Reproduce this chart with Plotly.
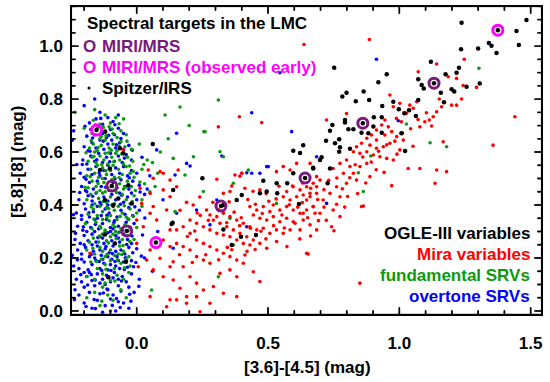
import plotly.graph_objects as go

# ---------------- data ----------------
miri_x = [-0.095, -0.038, 0.321, 0.641, 0.861, 1.132]
miri_y = [0.472, 0.302, 0.396, 0.502, 0.709, 0.860]
early_x = [-0.153, 0.073, 1.375]
early_y = [0.683, 0.258, 1.060]

irs_pts = [
    (1.237, 1.088), (1.446, 1.057), (1.484, 1.098), (1.341, 1.012), (1.351, 1.001), (1.455, 1.004),
    (1.370, 0.974), (1.300, 0.991), (1.235, 0.988), (1.227, 0.918), (1.218, 0.899), (1.306, 0.859),
    (1.256, 0.846), (1.176, 0.894), (1.120, 0.941), (1.072, 0.875), (1.085, 0.853), (1.093, 0.840),
    (1.158, 0.824), (1.199, 0.837), (1.209, 0.828), (1.170, 0.788), (1.072, 0.796), (0.952, 0.894),
    (0.920, 0.863), (0.864, 0.828), (0.799, 0.824), (0.783, 0.810), (0.834, 0.792), (0.885, 0.796),
    (0.935, 0.774), (0.977, 0.790), (0.998, 0.761), (1.019, 0.746), (1.037, 0.758), (1.063, 0.736),
    (1.008, 0.671), (0.903, 0.731), (0.933, 0.731), (0.901, 0.696), (0.933, 0.673), (0.882, 0.671),
    (0.856, 0.673), (0.825, 0.686), (0.806, 0.686), (0.793, 0.721), (0.793, 0.711), (0.745, 0.702),
    (0.736, 0.680), (0.721, 0.643), (0.755, 0.633), (0.771, 0.648), (0.774, 0.618), (0.812, 0.612),
    (0.771, 0.601), (0.634, 0.626), (0.704, 0.580), (0.698, 0.570), (0.736, 0.538), (0.672, 0.541),
    (0.727, 0.482), (1.022, 0.604), (0.752, 0.918), (0.622, 0.596), (0.596, 0.605), (0.672, 0.538),
    (0.596, 0.520), (0.482, 0.492), (0.533, 0.482), (0.573, 0.482), (0.495, 0.451), (0.469, 0.444),
    (0.535, 0.444), (0.618, 0.404), (0.400, 0.438), (0.381, 0.419), (0.330, 0.400), (0.250, 0.501),
    (0.330, 0.308), (0.397, 0.280), (0.454, 0.287), (0.362, 0.249), (0.137, 0.333), (0.139, 0.457),
    (-0.121, 0.289), (-0.083, 0.255), (-0.041, 0.186), (-0.108, 0.127), (-0.089, 0.400), (-0.019, 0.406),
    (0.133, 0.328), (-0.120, 0.677), (0.061, 0.630), (-0.064, 0.614), (-0.051, 0.595), (-0.102, 0.538),
    (-0.140, 0.532), (-0.032, 0.475), (-0.121, 0.419), (-0.070, 0.425),
    (-0.095, 0.472), (-0.038, 0.302), (0.321, 0.396), (0.641, 0.502), (0.861, 0.709), (1.132, 0.860),
    (-0.153, 0.683), (0.073, 0.258), (1.375, 1.060),
]

mira_pts = [
    (0.886, 1.025), (0.637, 1.006), (1.247, 0.950), (1.142, 0.932), (1.072, 0.903), (1.186, 0.884),
    (1.218, 0.878), (1.243, 0.851), (1.152, 0.800), (1.199, 0.777), (1.237, 0.800), (1.218, 0.777),
    (1.161, 0.771), (1.142, 0.752), (1.129, 0.733), (1.114, 0.721), (1.097, 0.714), (1.123, 0.698),
    (1.078, 0.695), (1.053, 0.765), (1.066, 0.790), (1.040, 0.777), (1.027, 0.746), (1.008, 0.714),
    (0.989, 0.727), (0.977, 0.771), (0.964, 0.815), (1.002, 0.784), (0.945, 0.721), (0.958, 0.695),
    (0.933, 0.702), (0.913, 0.683), (0.894, 0.664), (0.876, 0.652), (0.913, 0.645), (0.945, 0.664),
    (0.971, 0.677), (0.990, 0.658), (1.015, 0.645), (0.964, 0.633), (0.939, 0.620), (0.913, 0.614),
    (0.888, 0.626), (0.856, 0.633), (0.837, 0.620), (0.825, 0.601), (0.850, 0.595), (0.876, 0.601),
    (0.901, 0.589), (0.926, 0.582), (0.952, 0.576), (0.977, 0.570), (1.002, 0.608), (1.034, 0.538),
    (1.078, 0.538), (1.142, 0.532), (1.180, 0.526), (1.136, 0.482), (1.167, 0.639), (1.357, 0.626),
    (0.971, 0.473), (0.856, 0.394), (0.812, 0.545), (0.799, 0.570), (0.774, 0.557), (0.748, 0.538),
    (0.787, 0.520), (0.825, 0.520), (0.850, 0.545), (0.876, 0.557), (0.888, 0.507), (0.837, 0.494),
    (0.799, 0.482), (0.761, 0.469), (0.736, 0.444), (0.774, 0.431), (0.710, 0.419), (0.685, 0.469),
    (0.660, 0.444), (0.698, 0.494), (0.647, 0.419), (0.672, 0.394), (0.748, 0.381), (0.698, 0.369),
    (0.774, 0.356), (0.634, 0.369), (0.723, 0.721), (0.799, 0.745), (1.294, 0.844), (1.440, 0.733),
    (0.532, 0.526), (0.558, 0.545), (0.584, 0.532), (0.609, 0.557), (0.660, 0.557), (0.685, 0.507),
    (0.672, 0.482), (0.647, 0.469), (0.622, 0.457), (0.596, 0.469), (0.571, 0.451), (0.558, 0.431),
    (0.584, 0.419), (0.609, 0.431), (0.634, 0.438), (0.660, 0.431), (0.685, 0.444), (0.672, 0.394),
    (0.647, 0.381), (0.622, 0.369), (0.596, 0.381), (0.571, 0.394), (0.545, 0.381), (0.520, 0.400),
    (0.507, 0.375), (0.482, 0.394), (0.457, 0.381), (0.431, 0.394), (0.444, 0.362), (0.469, 0.350),
    (0.495, 0.343), (0.520, 0.356), (0.545, 0.337), (0.571, 0.350), (0.596, 0.337), (0.634, 0.343),
    (0.660, 0.325), (0.679, 0.369), (0.685, 0.306), (0.647, 0.218), (0.622, 0.306), (0.584, 0.306),
    (0.558, 0.293), (0.532, 0.306), (0.507, 0.293), (0.482, 0.312), (0.457, 0.306), (0.431, 0.318),
    (0.406, 0.331), (0.381, 0.343), (0.355, 0.356), (0.330, 0.369), (0.305, 0.356), (0.279, 0.362),
    (0.266, 0.381), (0.292, 0.343), (0.317, 0.331), (0.343, 0.318), (0.368, 0.306), (0.393, 0.293),
    (0.419, 0.280), (0.444, 0.268), (0.469, 0.255), (0.495, 0.237), (0.431, 0.249), (0.406, 0.255),
    (0.381, 0.268), (0.355, 0.280), (0.330, 0.287), (0.305, 0.293), (0.279, 0.306), (0.254, 0.318),
    (0.228, 0.331), (0.203, 0.343), (0.177, 0.318), (0.152, 0.306), (0.203, 0.293), (0.228, 0.268),
    (0.254, 0.255), (0.279, 0.243), (0.305, 0.230), (0.330, 0.218), (0.355, 0.205), (0.381, 0.192),
    (0.406, 0.180), (0.444, 0.148), (0.469, 0.111), (0.381, 0.129), (0.355, 0.155), (0.317, 0.142),
    (0.279, 0.180), (0.254, 0.192), (0.228, 0.205), (0.203, 0.230), (0.177, 0.243), (0.152, 0.255),
    (0.139, 0.186), (0.177, 0.167), (0.203, 0.129), (0.228, 0.105), (0.254, 0.079), (0.292, 0.092),
    (0.330, 0.067), (0.381, 0.054), (0.279, 0.029), (0.228, 0.054), (0.190, 0.054), (0.165, 0.086),
    (0.190, 0.029), (0.241, -0.003), (0.305, 0.497), (0.393, 0.509), (0.355, 0.451), (0.330, 0.444),
    (0.469, 0.457), (0.000, 0.343), (0.051, 0.369), (0.025, 0.318), (0.076, 0.343), (0.114, 0.381),
    (0.127, 0.306), (0.101, 0.268), (0.127, 0.243), (0.051, 0.230), (0.038, 0.192), (0.089, 0.199),
    (0.127, 0.167), (0.101, 0.129), (0.063, 0.155), (0.139, 0.117), (0.051, 0.054), (0.127, 0.042),
    (0.114, 0.016), (0.152, 0.042), (0.000, 0.255), (0.006, 0.167), (-0.178, 0.218), (0.019, 0.406),
    (0.063, 0.394), (-0.051, 0.608), (0.044, 0.532), (0.089, 0.526), (0.013, 0.463), (0.063, 0.501),
    (0.127, 0.494), (0.152, 0.469), (0.101, 0.457), (0.051, 0.444), (0.127, 0.431), (0.158, 0.532),
    (0.391, 0.733), (0.311, 0.695), (0.476, 0.711), (0.101, 0.520), (0.374, 0.513), (0.400, 0.520),
    (0.850, 0.105), (0.653, 0.215), (0.863, 0.396), (0.742, 0.318), (0.215, 0.400), (0.240, 0.430),
    (0.190, 0.410), (0.230, 0.370), (0.165, 0.380), (0.290, 0.410), (0.345, 0.240), (0.420, 0.225),
    (0.352, 0.412), (0.371, 0.373), (0.398, 0.352), (0.423, 0.421), (0.452, 0.403), (0.478, 0.368),
    (0.503, 0.414), (0.531, 0.423), (0.553, 0.362), (0.581, 0.401), (0.613, 0.392), (0.631, 0.409),
    (0.662, 0.463), (0.689, 0.421), (0.713, 0.458), (0.731, 0.493), (0.762, 0.502), (0.783, 0.461),
    (0.811, 0.503), (0.832, 0.552), (0.861, 0.581), (0.893, 0.562), (0.921, 0.603), (0.952, 0.627),
    (0.983, 0.641), (1.012, 0.672), (1.043, 0.688), (1.071, 0.723), (1.103, 0.748), (0.912, 0.533),
    (0.872, 0.483), (0.803, 0.432), (0.761, 0.403), (0.713, 0.392), (0.692, 0.341), (0.651, 0.352),
    (0.603, 0.331), (0.562, 0.313), (0.521, 0.322), (0.473, 0.301), (0.433, 0.312), (0.392, 0.322),
    (0.343, 0.333), (0.312, 0.382), (0.273, 0.342), (0.242, 0.361), (0.221, 0.302), (0.193, 0.281),
    (0.163, 0.212), (0.212, 0.183), (0.263, 0.212), (0.312, 0.193), (0.362, 0.231), (0.412, 0.211),
    (0.451, 0.232), (0.492, 0.272), (0.533, 0.262), (0.572, 0.243), (0.621, 0.272), (0.662, 0.283),
    (0.722, 0.342), (0.751, 0.303), (0.792, 0.392), (0.841, 0.443), (0.942, 0.523), (0.991, 0.592),
    (1.052, 0.622), (0.632, 0.483), (0.593, 0.472), (0.542, 0.471), (0.493, 0.443), (0.443, 0.452),
    (0.412, 0.463), (0.362, 0.472),
]

fund_pts = [
    (-0.14, 0.02), (-0.09, 0.04), (-0.16, 0.07), (-0.11, 0.06), (-0.06, 0.08), (-0.19, 0.05), (-0.13, 0.09),
    (-0.04, 0.05), (-0.10, 0.00), (-0.16, 0.12), (-0.13, 0.14), (-0.10, 0.115), (-0.075, 0.135), (-0.05, 0.12),
    (-0.12, 0.105), (-0.19, 0.13), (-0.03, 0.145), (-0.15, 0.16), (-0.12, 0.175), (-0.10, 0.19), (-0.085, 0.16),
    (-0.06, 0.18), (-0.04, 0.195), (-0.135, 0.195), (-0.175, 0.185), (-0.025, 0.17), (-0.16, 0.215),
    (-0.14, 0.24), (-0.12, 0.205), (-0.10, 0.23), (-0.085, 0.21), (-0.065, 0.245), (-0.05, 0.225),
    (-0.03, 0.205), (-0.13, 0.225), (-0.07, 0.215), (-0.19, 0.23), (-0.165, 0.275), (-0.145, 0.26),
    (-0.13, 0.29), (-0.115, 0.265), (-0.10, 0.28), (-0.085, 0.255), (-0.07, 0.295), (-0.055, 0.27),
    (-0.04, 0.285), (-0.12, 0.30), (-0.09, 0.29), (-0.18, 0.26), (-0.01, 0.27), (-0.17, 0.31), (-0.155, 0.335),
    (-0.14, 0.32), (-0.12, 0.305), (-0.105, 0.34), (-0.09, 0.325), (-0.075, 0.345), (-0.06, 0.31),
    (-0.045, 0.325), (-0.03, 0.345), (-0.13, 0.345), (-0.08, 0.30), (-0.195, 0.33), (0.00, 0.315),
    (-0.185, 0.365), (-0.165, 0.385), (-0.15, 0.36), (-0.13, 0.375), (-0.115, 0.39), (-0.10, 0.36),
    (-0.085, 0.38), (-0.07, 0.395), (-0.055, 0.37), (-0.04, 0.355), (-0.025, 0.385), (-0.14, 0.395),
    (-0.095, 0.40), (0.00, 0.37), (0.02, 0.395), (-0.19, 0.42), (-0.175, 0.44), (-0.16, 0.405),
    (-0.145, 0.425), (-0.13, 0.445), (-0.115, 0.41), (-0.10, 0.43), (-0.085, 0.405), (-0.07, 0.425),
    (-0.055, 0.44), (-0.04, 0.42), (-0.025, 0.405), (-0.01, 0.435), (-0.12, 0.45), (0.02, 0.42), (0.05, 0.45),
    (-0.185, 0.465), (-0.17, 0.49), (-0.155, 0.47), (-0.14, 0.455), (-0.125, 0.485), (-0.11, 0.465),
    (-0.095, 0.495), (-0.08, 0.455), (-0.065, 0.48), (-0.05, 0.46), (-0.035, 0.49), (-0.02, 0.47),
    (-0.005, 0.455), (-0.13, 0.50), (0.03, 0.48), (0.07, 0.47), (-0.19, 0.51), (-0.175, 0.535), (-0.16, 0.52),
    (-0.145, 0.505), (-0.13, 0.54), (-0.115, 0.515), (-0.10, 0.53), (-0.085, 0.505), (-0.07, 0.535),
    (-0.055, 0.515), (-0.04, 0.545), (-0.025, 0.52), (-0.01, 0.505), (-0.15, 0.55), (-0.09, 0.55),
    (0.02, 0.535), (0.08, 0.52), (-0.185, 0.565), (-0.17, 0.58), (-0.155, 0.56), (-0.14, 0.585),
    (-0.125, 0.57), (-0.11, 0.555), (-0.095, 0.58), (-0.08, 0.595), (-0.065, 0.57), (-0.05, 0.555),
    (-0.035, 0.58), (-0.015, 0.565), (-0.16, 0.60), (-0.12, 0.595), (0.04, 0.57), (-0.18, 0.615),
    (-0.165, 0.63), (-0.15, 0.605), (-0.135, 0.625), (-0.12, 0.645), (-0.105, 0.615), (-0.09, 0.63),
    (-0.075, 0.605), (-0.06, 0.64), (-0.045, 0.62), (-0.02, 0.61), (-0.14, 0.65), (0.01, 0.63),
    (-0.17, 0.67), (-0.15, 0.69), (-0.135, 0.66), (-0.12, 0.68), (-0.105, 0.695), (-0.09, 0.67),
    (-0.075, 0.655), (-0.06, 0.68), (-0.04, 0.665), (-0.20, 0.69), (-0.165, 0.72), (-0.14, 0.705),
    (-0.12, 0.74), (-0.10, 0.71), (-0.08, 0.73), (-0.16, 0.76), (-0.05, 0.725), (-0.235, 0.75),
    (0.311, 0.796), (0.165, 0.770), (0.108, 0.740), (0.256, 0.677), (0.216, 0.582), (0.139, 0.576),
    (0.425, 0.532), (1.303, 0.916), (1.180, 0.620), (1.117, 0.635), (1.027, 0.706), (0.863, 0.451),
    (0.844, 0.522), (0.891, 0.585), (0.260, 0.677), (0.317, 0.601), (0.330, 0.582), (0.184, 0.513),
    (0.368, 0.482), (0.254, 0.451), (0.355, 0.350), (0.368, 0.249), (0.311, 0.129), (0.532, 0.406),
    (0.146, 0.375), (0.057, 0.079), (0.090, 0.600), (0.120, 0.650), (0.200, 0.700), (0.060, 0.560),
    (-0.153, 0.187), (-0.117, 0.157), (-0.073, 0.193), (-0.047, 0.163), (-0.142, 0.283), (-0.108, 0.257),
    (-0.078, 0.273), (-0.052, 0.247), (-0.027, 0.263), (-0.163, 0.347), (-0.137, 0.313), (-0.113, 0.353),
    (-0.083, 0.317), (-0.063, 0.357), (-0.033, 0.303), (-0.173, 0.393), (-0.153, 0.447), (-0.127, 0.413),
    (-0.107, 0.387), (-0.077, 0.447), (-0.047, 0.397), (-0.017, 0.413), (-0.177, 0.507), (-0.147, 0.481),
    (-0.117, 0.529), (-0.093, 0.471), (-0.067, 0.503), (-0.043, 0.467), (-0.013, 0.527), (-0.163, 0.583),
    (-0.133, 0.553), (-0.107, 0.597), (-0.087, 0.563), (-0.057, 0.593), (-0.027, 0.547), (-0.173, 0.643),
    (-0.147, 0.617), (-0.117, 0.661), (-0.097, 0.607), (-0.067, 0.623), (-0.037, 0.641), (-0.157, 0.703),
    (-0.127, 0.693), (-0.093, 0.687), (-0.067, 0.707), (-0.193, 0.597), (-0.197, 0.467), (-0.013, 0.357),
    (0.012, 0.487), (0.027, 0.553), (-0.133, 0.037), (-0.083, 0.113), (-0.113, 0.213), (-0.057, 0.213),
    (-0.167, 0.237),
]

over_pts = [
    (-0.17, 0.01), (-0.12, 0.02), (-0.08, 0.00), (-0.05, 0.03), (-0.15, 0.04), (-0.10, 0.045), (-0.20, 0.03),
    (-0.03, 0.01), (-0.13, -0.005), (-0.07, 0.035), (-0.22, 0.06), (-0.18, 0.07), (-0.14, 0.065), (-0.11, 0.08),
    (-0.09, 0.06), (-0.06, 0.075), (-0.03, 0.09), (-0.16, 0.095), (-0.12, 0.10), (-0.20, 0.09), (-0.07, 0.095),
    (-0.01, 0.07), (-0.235, 0.08), (-0.23, 0.12), (-0.21, 0.11), (-0.19, 0.13), (-0.17, 0.115), (-0.15, 0.14),
    (-0.13, 0.12), (-0.115, 0.135), (-0.10, 0.11), (-0.085, 0.145), (-0.07, 0.12), (-0.055, 0.13),
    (-0.04, 0.11), (-0.02, 0.14), (-0.18, 0.145), (-0.14, 0.105), (-0.09, 0.125), (-0.20, 0.145), (0.01, 0.12),
    (-0.24, 0.17), (-0.22, 0.16), (-0.20, 0.185), (-0.185, 0.155), (-0.17, 0.175), (-0.155, 0.19),
    (-0.14, 0.16), (-0.125, 0.18), (-0.11, 0.155), (-0.095, 0.195), (-0.08, 0.17), (-0.065, 0.16),
    (-0.05, 0.185), (-0.035, 0.165), (-0.02, 0.19), (-0.16, 0.20), (-0.13, 0.195), (-0.10, 0.175),
    (-0.21, 0.195), (-0.07, 0.19), (-0.245, 0.21), (-0.225, 0.23), (-0.21, 0.215), (-0.195, 0.24),
    (-0.18, 0.205), (-0.165, 0.225), (-0.15, 0.245), (-0.135, 0.21), (-0.12, 0.235), (-0.105, 0.22),
    (-0.09, 0.245), (-0.075, 0.205), (-0.06, 0.23), (-0.045, 0.215), (-0.03, 0.24), (-0.015, 0.22),
    (-0.17, 0.25), (-0.14, 0.23), (-0.11, 0.205), (-0.08, 0.225), (-0.20, 0.25), (0.00, 0.235),
    (-0.235, 0.27), (-0.215, 0.255), (-0.20, 0.285), (-0.185, 0.265), (-0.17, 0.29), (-0.155, 0.26),
    (-0.14, 0.28), (-0.125, 0.255), (-0.11, 0.295), (-0.095, 0.265), (-0.08, 0.285), (-0.065, 0.26),
    (-0.05, 0.29), (-0.035, 0.27), (-0.02, 0.255), (-0.16, 0.30), (-0.13, 0.275), (-0.10, 0.30),
    (-0.07, 0.275), (-0.19, 0.30), (-0.225, 0.32), (-0.205, 0.305), (-0.19, 0.335), (-0.175, 0.315),
    (-0.16, 0.345), (-0.145, 0.31), (-0.13, 0.33), (-0.115, 0.345), (-0.10, 0.315), (-0.085, 0.34),
    (-0.07, 0.32), (-0.055, 0.305), (-0.04, 0.335), (-0.025, 0.315), (-0.21, 0.345), (-0.15, 0.35),
    (-0.09, 0.31), (-0.01, 0.33), (-0.23, 0.37), (-0.21, 0.36), (-0.195, 0.385), (-0.18, 0.355),
    (-0.165, 0.375), (-0.15, 0.395), (-0.135, 0.36), (-0.12, 0.385), (-0.105, 0.37), (-0.09, 0.395),
    (-0.075, 0.355), (-0.06, 0.38), (-0.045, 0.365), (-0.03, 0.39), (-0.015, 0.36), (-0.17, 0.40),
    (-0.11, 0.40), (0.01, 0.38), (-0.22, 0.42), (-0.20, 0.405), (-0.185, 0.435), (-0.17, 0.415),
    (-0.155, 0.445), (-0.14, 0.41), (-0.125, 0.43), (-0.11, 0.415), (-0.095, 0.44), (-0.08, 0.42),
    (-0.065, 0.445), (-0.05, 0.41), (-0.035, 0.43), (-0.02, 0.445), (0.00, 0.42), (-0.19, 0.45), (0.03, 0.44),
    (-0.21, 0.47), (-0.195, 0.455), (-0.18, 0.485), (-0.165, 0.46), (-0.15, 0.49), (-0.135, 0.47),
    (-0.12, 0.50), (-0.105, 0.455), (-0.09, 0.485), (-0.075, 0.465), (-0.06, 0.495), (-0.045, 0.47),
    (-0.03, 0.46), (-0.015, 0.49), (0.01, 0.475), (0.04, 0.46), (-0.215, 0.52), (-0.20, 0.505),
    (-0.185, 0.535), (-0.17, 0.515), (-0.155, 0.545), (-0.14, 0.51), (-0.125, 0.53), (-0.11, 0.55),
    (-0.095, 0.515), (-0.08, 0.54), (-0.065, 0.52), (-0.05, 0.545), (-0.035, 0.51), (-0.02, 0.53),
    (0.00, 0.52), (0.05, 0.51), (-0.205, 0.57), (-0.19, 0.555), (-0.175, 0.585), (-0.16, 0.565),
    (-0.145, 0.595), (-0.13, 0.56), (-0.115, 0.58), (-0.10, 0.595), (-0.085, 0.565), (-0.07, 0.585),
    (-0.055, 0.56), (-0.04, 0.59), (-0.02, 0.57), (0.02, 0.58), (-0.20, 0.62), (-0.185, 0.605),
    (-0.17, 0.635), (-0.155, 0.615), (-0.14, 0.645), (-0.125, 0.61), (-0.11, 0.63), (-0.095, 0.645),
    (-0.08, 0.615), (-0.065, 0.635), (-0.05, 0.61), (-0.03, 0.625), (-0.245, 0.645), (-0.19, 0.66),
    (-0.175, 0.685), (-0.16, 0.665), (-0.145, 0.695), (-0.13, 0.67), (-0.115, 0.655), (-0.10, 0.685),
    (-0.085, 0.665), (-0.07, 0.69), (-0.05, 0.67), (-0.24, 0.68), (-0.18, 0.71), (-0.155, 0.725),
    (-0.13, 0.705), (-0.11, 0.73), (-0.09, 0.715), (-0.20, 0.775), (-0.14, 0.75), (-0.07, 0.74), (-0.16, 0.80),
    (0.913, 0.950), (0.590, 0.677), (0.996, 0.718), (0.545, 0.899), (0.438, 0.748), (0.152, 0.671),
    (0.324, 0.585), (0.076, 0.608), (0.501, 0.545), (0.723, 0.406), (0.190, 0.557), (0.203, 0.547),
    (0.146, 0.513), (0.400, 0.520), (0.419, 0.522), (0.438, 0.520), (0.469, 0.520), (0.495, 0.545),
    (0.305, 0.419), (0.228, 0.381), (0.152, 0.369), (0.279, 0.325), (0.419, 0.318), (0.139, 0.237),
    (0.685, 0.582), (0.080, 0.300), (0.060, 0.150), (0.030, 0.200), (0.100, 0.420),
    (-0.213, 0.137), (-0.187, 0.098), (-0.162, 0.043), (-0.143, 0.187), (-0.127, 0.068), (-0.098, 0.153),
    (-0.077, 0.047), (-0.058, 0.113), (-0.043, 0.201), (-0.027, 0.063), (-0.012, 0.167), (-0.226, 0.193),
    (-0.173, 0.213), (-0.148, 0.277), (-0.117, 0.243), (-0.093, 0.217), (-0.067, 0.297), (-0.038, 0.251),
    (-0.018, 0.283), (-0.203, 0.318), (-0.182, 0.371), (-0.157, 0.327), (-0.136, 0.401), (-0.113, 0.361),
    (-0.087, 0.333), (-0.062, 0.403), (-0.033, 0.347), (-0.007, 0.393), (-0.217, 0.447), (-0.193, 0.497),
    (-0.168, 0.433), (-0.143, 0.521), (-0.118, 0.467), (-0.083, 0.499), (-0.057, 0.437), (-0.028, 0.503),
    (0.013, 0.449), (-0.207, 0.553), (-0.178, 0.603), (-0.152, 0.571), (-0.127, 0.641), (-0.103, 0.563),
    (-0.077, 0.627), (-0.047, 0.577), (-0.017, 0.607), (-0.197, 0.697), (-0.168, 0.653), (-0.137, 0.727),
    (-0.107, 0.663), (-0.083, 0.703), (-0.060, 0.651), (-0.233, 0.293), (-0.241, 0.363), (-0.228, 0.553),
    (-0.237, 0.043), (-0.193, 0.017), (-0.157, 0.009), (-0.063, 0.013), (-0.022, 0.037), (0.008, 0.093),
    (0.018, 0.207), (0.022, 0.287), (0.031, 0.351), (-0.113, 0.083), (-0.093, 0.021), (-0.173, 0.137),
    (-0.158, 0.117), (-0.133, 0.153), (-0.083, 0.187), (-0.047, 0.157), (-0.003, 0.183),
]

legend_top = ["Spectral targets in the LMC", "MIRI/MRS", "MIRI/MRS (observed early)", "Spitzer/IRS"]
legend_bottom = ["OGLE-III variables", "Mira variables", "fundamental SRVs", "overtone SRVs"]

x_ticks = [0.0, 0.5, 1.0, 1.5]
x_minor = [-0.2, -0.1, 0.1, 0.2, 0.3, 0.4, 0.6, 0.7, 0.8, 0.9, 1.1, 1.2, 1.3, 1.4]
y_ticks = [0.0, 0.2, 0.4, 0.6, 0.8, 1.0]
y_minor = [0.05, 0.1, 0.15, 0.25, 0.3, 0.35, 0.45, 0.5, 0.55, 0.65, 0.7, 0.75, 0.85, 0.9, 0.95, 1.05, 1.1, 1.15]

# ---------------- styling ----------------
FONT = "Liberation Sans"
FS = 17
BLACK = "#000000"
RED = "#ff0000"
GREEN = "#0b9a0b"
BLUE = "#0000ff"
PURPLE = "#7a1a7a"
MAGENTA = "#ff00ff"

# plot area in pixels
L, R, T, B = 70, 543, 5, 316
W, H = 550, 382
X0, X1 = -0.254, 1.547
Y0, Y1 = -0.019, 1.155
KX = (R - L) / (X1 - X0)   # px per x unit
KY = (B - T) / (Y1 - Y0)   # px per y unit


def px(x):
    return (x - L) / (R - L)


def py(y):
    return (B - y) / (B - T)


def unzip(pts):
    return [p[0] for p in pts], [p[1] for p in pts]


def bold(size, color):
    return dict(family=FONT, size=size, color=color, weight="bold")


fig = go.Figure()

bx, by = unzip(over_pts)
gx, gy = unzip(fund_pts)
rx, ry = unzip(mira_pts)
kx, ky = unzip(irs_pts)

fig.add_trace(go.Scatter(x=bx, y=by, mode="markers", marker=dict(size=3.6, color=BLUE), hoverinfo="skip"))
fig.add_trace(go.Scatter(x=gx, y=gy, mode="markers", marker=dict(size=3.6, color=GREEN), hoverinfo="skip"))
fig.add_trace(go.Scatter(x=rx, y=ry, mode="markers", marker=dict(size=3.6, color=RED), hoverinfo="skip"))
fig.add_trace(go.Scatter(x=kx, y=ky, mode="markers", marker=dict(size=4.5, color=BLACK), hoverinfo="skip"))
fig.add_trace(go.Scatter(x=miri_x, y=miri_y, mode="markers",
                         marker=dict(size=10, color="rgba(0,0,0,0)", line=dict(color=PURPLE, width=3)),
                         hoverinfo="skip"))
fig.add_trace(go.Scatter(x=early_x, y=early_y, mode="markers",
                         marker=dict(size=10, color="rgba(0,0,0,0)", line=dict(color=MAGENTA, width=3)),
                         hoverinfo="skip"))


def dot_run(xs, ys, size):
    # same drawing path as the data dots (clipped to the plot area)
    fig.add_trace(go.Scatter(x=xs, y=ys, mode="markers", hoverinfo="skip",
                             marker=dict(symbol="circle", size=size, color=BLACK)))


# frame: rows of small dots one pixel apart, just inside each edge (axis scales)
nxp = R - L
nyp = B - T
ex = [X0 + i / KX for i in range(nxp + 1)]
ey = [Y0 + j / KY for j in range(nyp + 1)]
ib_y0, ib_y1 = Y0 + 1.0 / KY, Y1 - 1.0 / KY
ib_x0, ib_x1 = X0 + 1.0 / KX, X1 - 1.0 / KX
dot_run(ex + ex + [ib_x0] * len(ey) + [ib_x1] * len(ey),
        [ib_y0] * len(ex) + [ib_y1] * len(ex) + ey + ey, 2.3)

# inside tick marks on all four sides
tx, ty = [], []
for v in x_ticks + x_minor:
    n = 8 if v in x_ticks else 5
    for k in range(1, n + 1):
        tx += [v, v]
        ty += [Y0 + k / KY, Y1 - k / KY]
for v in y_ticks + y_minor:
    n = 8 if v in y_ticks else 5
    for k in range(1, n + 1):
        tx += [X0 + k / KX, X1 - k / KX]
        ty += [v, v]
dot_run(tx, ty, 1.8)


def text(xp, yp, s, color, anchor="left", size=FS, angle=0):
    fig.add_annotation(x=px(xp), y=py(yp), xref="paper", yref="paper", xanchor=anchor, yanchor="middle",
                       showarrow=False, text=s, textangle=angle, font=bold(size, color))


# top-left legend
text(85, 24, legend_top[0], BLACK)
text(100, 46, legend_top[1], PURPLE)
text(100, 67, legend_top[2], MAGENTA)
text(100, 88, legend_top[3], BLACK)
text(81, 46, "O", PURPLE)
text(81, 67, "O", MAGENTA)
fig.add_shape(type="circle", xref="paper", yref="paper", x0=px(87.5), x1=px(90.5), y0=py(89.5), y1=py(86.5),
              fillcolor=BLACK, line=dict(width=0))

# bottom-right legend
for txt, cy, col in zip(legend_bottom, [233, 254, 275.5, 296.5], [BLACK, RED, GREEN, BLUE]):
    text(532, cy, txt, col, anchor="right")

# axis titles
text(307, 367, "[3.6]-[4.5] (mag)", BLACK, anchor="center")
text(17, 162, "[5.8]-[8] (mag)", BLACK, anchor="center", angle=-90)

axis_common = dict(
    showgrid=False, zeroline=False, showline=False, ticks="", automargin=False,
    tickfont=bold(FS, BLACK),
)

fig.update_xaxes(range=[X0, X1], tickvals=x_ticks, ticktext=["%.1f" % v for v in x_ticks],
                 ticklabelstandoff=15, **axis_common)
fig.update_yaxes(range=[Y0, Y1], tickvals=y_ticks, ticktext=["%.1f" % v for v in y_ticks],
                 ticklabelstandoff=6, **axis_common)

fig.update_layout(
    width=W, height=H, showlegend=False,
    margin=dict(l=L, r=W - R, t=T, b=H - B),
    paper_bgcolor="white", plot_bgcolor="white",
)

fig.write_html("out.html", config={"displayModeBar": False},
               post_script="document.body.style.margin='0px';")
